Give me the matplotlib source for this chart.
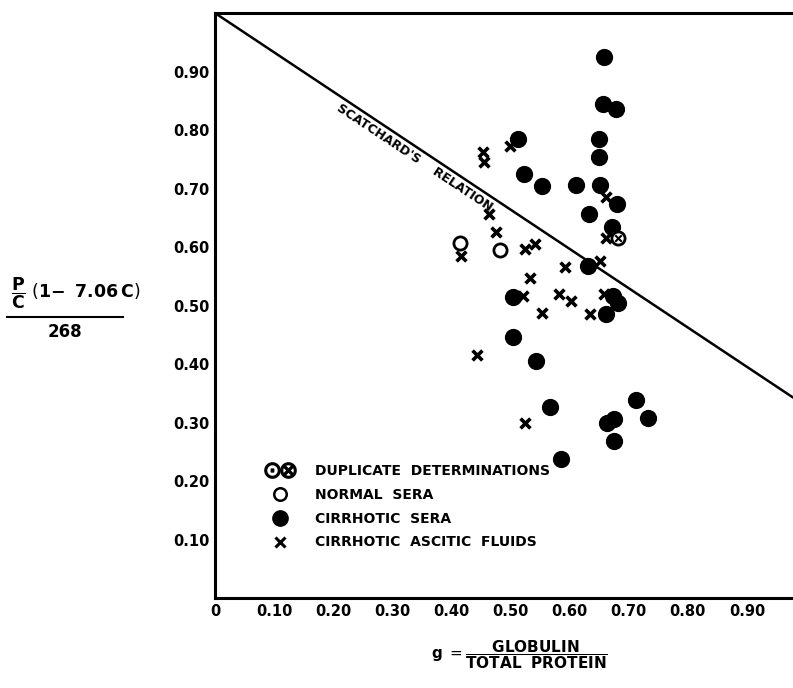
import matplotlib
matplotlib.use("Agg")
import matplotlib.pyplot as plt
from matplotlib.lines import Line2D
from matplotlib.legend_handler import HandlerTuple

# values (g, y)
sera_x = [0.659, 0.657, 0.678, 0.513, 0.650, 0.650, 0.523, 0.553, 0.611, 0.651,
          0.681, 0.632, 0.672, 0.631, 0.504, 0.673, 0.682, 0.661, 0.504, 0.544,
          0.567, 0.712, 0.732, 0.664, 0.675, 0.675, 0.586]
sera_y = [0.924, 0.844, 0.836, 0.784, 0.784, 0.754, 0.724, 0.705, 0.706, 0.706,
          0.673, 0.656, 0.635, 0.568, 0.515, 0.517, 0.504, 0.486, 0.446, 0.405,
          0.326, 0.338, 0.308, 0.299, 0.306, 0.269, 0.238]

normal_x = [0.414, 0.483]
normal_y = [0.606, 0.595]

fluid_x = [0.454, 0.456, 0.499, 0.464, 0.475, 0.416, 0.524, 0.542, 0.592, 0.533,
           0.521, 0.582, 0.603, 0.554, 0.634, 0.652, 0.661, 0.661, 0.659, 0.444,
           0.524]
fluid_y = [0.762, 0.745, 0.773, 0.657, 0.625, 0.585, 0.596, 0.605, 0.566, 0.547,
           0.517, 0.519, 0.508, 0.488, 0.486, 0.576, 0.685, 0.616, 0.519, 0.415,
           0.299]

dup_x = [0.682]
dup_y = [0.616]

line_x = [0.0, 1.0]
line_y = [1.0, 0.328]

xticks = [0, 0.1, 0.2, 0.3, 0.4, 0.5, 0.6, 0.7, 0.8, 0.9]
xlabels = ["0", "0.10", "0.20", "0.30", "0.40", "0.50", "0.60", "0.70", "0.80", "0.90"]
yticks = [0.1, 0.2, 0.3, 0.4, 0.5, 0.6, 0.7, 0.8, 0.9]
ylabels = ["0.10", "0.20", "0.30", "0.40", "0.50", "0.60", "0.70", "0.80", "0.90"]

plt.rcParams['mathtext.fontset'] = 'dejavusans'

fig = plt.figure(figsize=(7.93, 6.88), dpi=100)
ax = fig.add_axes([0.2711, 0.1308, 0.7289, 0.8503])

ax.plot(line_x, line_y, color='black', lw=1.8)
ax.scatter(sera_x, sera_y, s=130, c='black', zorder=3)
ax.scatter(normal_x, normal_y, s=90, facecolors='white', edgecolors='black',
           linewidths=2, zorder=3)
ax.scatter(fluid_x, fluid_y, s=50, marker='x', c='black', linewidths=2.6, zorder=3)
ax.scatter(dup_x, dup_y, s=90, facecolors='white', edgecolors='black',
           linewidths=2, zorder=4)
ax.scatter(dup_x, dup_y, s=22, marker='x', c='black', linewidths=1.5, zorder=5)

ax.set_xlim(0, 0.978)
ax.set_ylim(0, 1.0)
ax.set_xticks(xticks)
ax.set_xticklabels(xlabels)
ax.set_yticks(yticks)
ax.set_yticklabels(ylabels)
ax.tick_params(length=0, labelsize=10.5, pad=4)
for lab in ax.get_xticklabels() + ax.get_yticklabels():
    lab.set_fontweight('bold')
for s in ['left', 'bottom', 'top']:
    ax.spines[s].set_linewidth(2.2)
ax.spines['right'].set_visible(False)

ax.text(0.338, 0.753, "SCATCHARD'S    RELATION", rotation=-33.5,
        rotation_mode='anchor', ha='center', va='center',
        fontsize=9, fontweight='bold')

# legend
h_dup1 = Line2D([], [], marker=r'$\odot$', linestyle='none', color='black',
                markersize=11)
h_dup2 = Line2D([], [], marker=r'$\otimes$', linestyle='none', color='black',
                markersize=11)
h_norm = Line2D([], [], marker='o', linestyle='none', markerfacecolor='white',
                markeredgecolor='black', markersize=9, markeredgewidth=1.8)
h_sera = Line2D([], [], marker='o', linestyle='none', color='black', markersize=11)
h_fluid = Line2D([], [], marker='x', linestyle='none', color='black',
                 markersize=7, markeredgewidth=2.2)
ax.legend([(h_dup1, h_dup2), h_norm, h_sera, h_fluid],
          ["DUPLICATE  DETERMINATIONS", "NORMAL  SERA", "CIRRHOTIC  SERA",
           "CIRRHOTIC  ASCITIC  FLUIDS"],
          handler_map={tuple: HandlerTuple(ndivide=None, pad=0.5)},
          loc='upper left', bbox_to_anchor=(0.068, 0.25), frameon=False,
          prop={'weight': 'bold', 'size': 10}, handlelength=1.9,
          handletextpad=1.6, labelspacing=0.70)

# y label as a hand-set fraction
fig.text(76 / 793, 1 - 293 / 688,
         r"$\dfrac{\mathbf{P}}{\mathbf{C}}\ \left(\mathbf{1\!-\ 7.06\,C}\right)$",
         ha='center', va='center', fontsize=12.5)
fig.add_artist(Line2D([7 / 793, 123 / 793], [1 - 317 / 688, 1 - 317 / 688],
                      transform=fig.transFigure, color='black', lw=1.5))
fig.text(65 / 793, 1 - 332 / 688, "268", ha='center', va='center',
         fontsize=12, fontweight='bold')

fig.text(0.655, 0.048, r"$\mathbf{g}\ =\dfrac{\mathbf{GLOBULIN}}{\mathbf{TOTAL\ \ PROTEIN}}$",
         ha='center', va='center', fontsize=11)

fig.savefig("out.png", dpi=100)
